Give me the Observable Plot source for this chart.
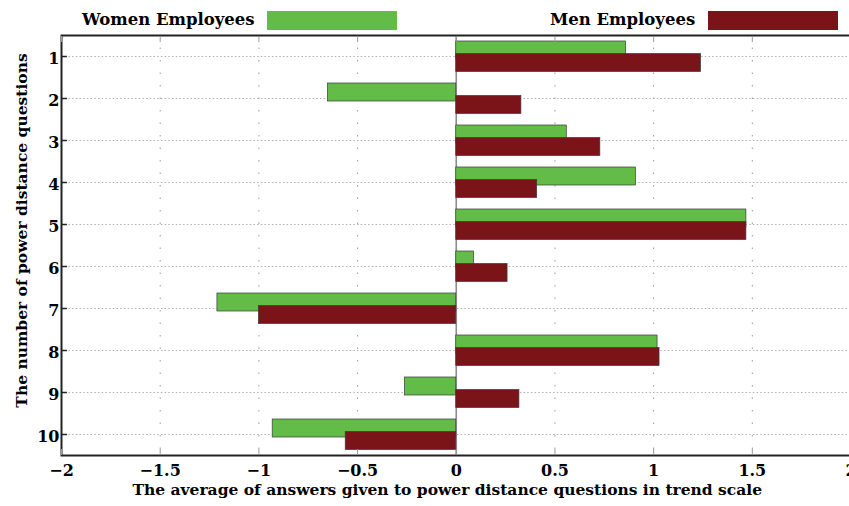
<!DOCTYPE html>
<html>
<head>
<meta charset="utf-8">
<script src="https://cdn.jsdelivr.net/npm/d3@7"></script>
<script src="https://cdn.jsdelivr.net/npm/@observablehq/plot@0.6"></script>
<style>
  html, body { margin: 0; padding: 0; background: #fff; overflow: hidden; }
  #chart { position: relative; width: 849px; height: 506px; overflow: hidden; }
  .key { position: absolute; font-family: "DejaVu Serif", "Liberation Serif", serif; font-weight: bold;
         font-size: 16.5px; line-height: 19px; color: #000; white-space: nowrap; }
  .swatch { position: absolute; height: 19px; width: 130px; }
  #chart svg { position: absolute; left: 0; top: 0; }
</style>
</head>
<body>
<div id="chart"></div>
<script>
// Power distance questions, average answer on the trend scale
const questions = ["1", "2", "3", "4", "5", "6", "7", "8", "9", "10"];
const women = [0.86, -0.65, 0.56, 0.91, 1.47, 0.09, -1.21, 1.02, -0.26, -0.93];
const men   = [1.24, 0.33, 0.73, 0.41, 1.47, 0.26, -1.00, 1.03, 0.32, -0.56];
const xTicks = [-2, -1.5, -1, -0.5, 0, 0.5, 1, 1.5, 2];
const seriesNames = ["Women Employees", "Men Employees"];
const colors = ["#62bc47", "#7a1419"];
const xTitle = "The average of answers given to power distance questions in trend scale";
const yTitle = "The number of power distance questions";

const rows = questions.map((q, i) => ({q, women: women[i], men: men[i]}));
const serif = "'DejaVu Serif', 'Liberation Serif', serif";
const fmt = d => (d < 0 ? "\u2212" : "") + Math.abs(d);

const chart = Plot.plot({
  width: 851,
  height: 506,
  marginLeft: 61,
  marginRight: 0.5,
  marginTop: 35,
  marginBottom: 51,
  style: {fontFamily: serif, fontWeight: "bold", maxWidth: "none", background: "white"},
  x: {domain: [-2, 2]},
  y: {domain: questions, padding: 0},
  marks: [
    // grid
    Plot.ruleX(xTicks, {stroke: "#9a9a9a", strokeDasharray: "1.5,11"}),
    Plot.ruleY(questions, {stroke: "#b0b0b0", strokeDasharray: "1.5,2.2"}),
    Plot.ruleX([0], {stroke: "#8c8c8c", strokeWidth: 1.6}),
    // bars
    Plot.barX(rows, {y: "q", x: "women", fill: colors[0], stroke: "#3a3a3a", strokeWidth: 0.7,
                     insetTop: 6, insetBottom: 18}),
    Plot.barX(rows, {y: "q", x: "men", fill: colors[1], stroke: "#3a3a3a", strokeWidth: 0.7,
                     insetTop: 18.5, insetBottom: 5.5}),
    // frame and ticks
    Plot.frame({stroke: "#222", strokeWidth: 2}),
    Plot.axisX(xTicks, {anchor: "bottom", tickSize: 6, dy: -6, stroke: "#9a9a9a", tickFormat: () => ""}),
    Plot.axisX(xTicks, {anchor: "top", tickSize: 6, dy: 6, stroke: "#9a9a9a", tickFormat: () => ""}),
    Plot.axisX(xTicks, {anchor: "bottom", tickSize: 0, tickPadding: 9, fontSize: 16, fontWeight: "bold",
                        tickFormat: fmt, label: null}),
    Plot.ruleY(questions, {x1: -2, x2: -1.97, stroke: "#222", strokeWidth: 1.5}),
    Plot.axisY({anchor: "left", tickSize: 0, tickPadding: 2, dy: 2, fontSize: 16, fontWeight: "bold", label: null}),
    // axis titles
    Plot.text([xTitle], {frameAnchor: "bottom", dx: -9, dy: 39, fontSize: 15.5, fontWeight: "bold", fill: "#000"}),
    Plot.text([yTitle], {frameAnchor: "left", textAnchor: "middle", rotate: -90, dx: -39, dy: -15,
                         fontSize: 15.5, fontWeight: "bold", fill: "#000"})
  ]
});

const root = document.getElementById("chart");
root.appendChild(chart);

// legend above the frame
const keyPos = [{text: 82, swatch: 267}, {text: 550, swatch: 708}];
seriesNames.forEach((name, i) => {
  const t = document.createElement("div");
  t.className = "key";
  t.textContent = name;
  t.style.left = keyPos[i].text + "px";
  t.style.top = "10px";
  root.appendChild(t);
  const s = document.createElement("div");
  s.className = "swatch";
  s.style.left = keyPos[i].swatch + "px";
  s.style.top = "11px";
  s.style.background = colors[i];
  root.appendChild(s);
});
</script>
</body>
</html>
